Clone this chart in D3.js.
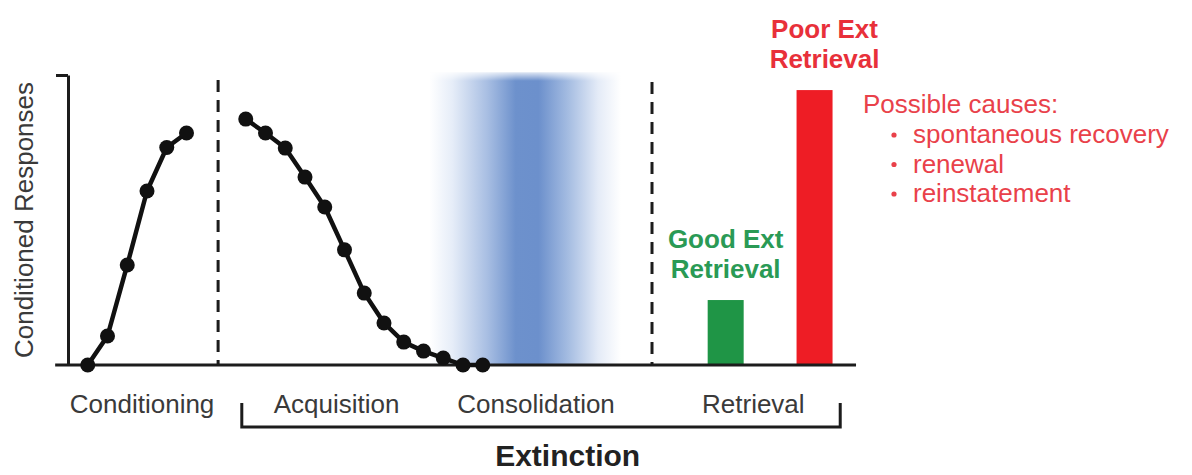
<!DOCTYPE html>
<html>
<head>
<meta charset="utf-8">
<script src="https://cdn.jsdelivr.net/npm/d3@7"></script>
<style>
  body { margin: 0; background: #fff; }
  svg { display: block; font-family: Arial, "Liberation Sans", Helvetica, sans-serif; }
</style>
</head>
<body>
<svg></svg>
<script>
// data (CR as fraction of axis height)
const condTrials = [1, 2, 3, 4, 5, 6];
const condCR = [0, 0.10, 0.345, 0.60, 0.75, 0.80];
const extTrials = [9, 10, 11, 12, 13, 14, 15, 16, 17, 18, 19, 20, 21];
const extCR = [0.848, 0.80, 0.748, 0.648, 0.545, 0.397, 0.248, 0.145, 0.079, 0.048, 0.024, 0, 0];
const retrievalTests = ['Good Ext', 'Poor Ext'];
const retrievalPos = [33.3, 37.8];
const retrievalCR = [0.224, 0.948];
const phases = ['Conditioning', 'Acquisition', 'Consolidation', 'Retrieval'];
const phasePos = [3.75, 13.6, 23.7, 34.7];
const causes = ['spontaneous recovery', 'renewal', 'reinstatement'];

const width = 1192;
const height = 475;

const svg = d3.select('svg')
  .attr('width', width)
  .attr('height', height);

const x = d3.scaleLinear().domain([0, 40]).range([68, 858]);
const y = d3.scaleLinear().domain([0, 1]).range([365, 75]);

const ink = '#1c1c1c';
const red = '#ee1d25';
const green = '#1f9546';

// consolidation band
const defs = svg.append('defs');
const grad = defs.append('linearGradient').attr('id', 'band');
[[0, '#ffffff'], [0.12, '#e6edf8'], [0.3, '#a9bfe3'], [0.45, '#6d91cc'],
 [0.57, '#6c90cc'], [0.72, '#a3bbe1'], [0.88, '#e4ebf7'], [1, '#ffffff']]
  .forEach(([o, c]) => grad.append('stop').attr('offset', o).attr('stop-color', c));
const vfade = defs.append('linearGradient').attr('id', 'vfade')
  .attr('x1', 0).attr('x2', 0).attr('y1', 0).attr('y2', 1);
vfade.append('stop').attr('offset', 0).attr('stop-color', '#fff').attr('stop-opacity', 0.2);
vfade.append('stop').attr('offset', 0.03).attr('stop-color', '#fff').attr('stop-opacity', 1);
vfade.append('stop').attr('offset', 1).attr('stop-color', '#fff').attr('stop-opacity', 1);
defs.append('mask').attr('id', 'bandMask')
  .append('rect')
  .attr('x', x(18.3)).attr('y', y(1.01))
  .attr('width', x(28) - x(18.3)).attr('height', y(0) - y(1.01))
  .attr('fill', 'url(#vfade)');

svg.append('rect')
  .attr('x', x(18.3))
  .attr('y', y(1.01))
  .attr('width', x(28) - x(18.3))
  .attr('height', y(0) - y(1.01))
  .attr('fill', 'url(#band)')
  .attr('mask', 'url(#bandMask)');

// phase dividers
[7.6, 29.57].forEach((d, i) => {
  svg.append('line')
    .attr('x1', x(d)).attr('x2', x(d))
    .attr('y1', y(i === 0 ? 0.983 : 0.976)).attr('y2', y(0))
    .attr('stroke', ink)
    .attr('stroke-width', 3)
    .attr('stroke-dasharray', '12 8');
});

// bars
svg.selectAll('.bar')
  .data(retrievalCR)
  .enter()
  .append('rect')
  .attr('class', 'bar')
  .attr('x', (d, i) => x(retrievalPos[i]) - 18)
  .attr('y', d => y(d))
  .attr('width', 36)
  .attr('height', d => y(0) - y(d))
  .attr('fill', (d, i) => i === 0 ? green : red);

// axes
const yAxis = d3.axisLeft(y).tickValues([1]).tickFormat('').tickSize(12).tickSizeOuter(0);
const yg = svg.append('g')
  .attr('transform', `translate(${x(0)}, 0)`)
  .call(yAxis);
yg.selectAll('path, line').attr('stroke', ink).attr('stroke-width', 3);

svg.append('line')
  .attr('x1', x(-0.65)).attr('x2', x(39.9))
  .attr('y1', y(0)).attr('y2', y(0))
  .attr('stroke', ink)
  .attr('stroke-width', 3);

// learning curves
const line = d3.line().x(d => x(d[0])).y(d => y(d[1]));
const curves = [
  condTrials.map((t, i) => [t, condCR[i]]),
  extTrials.map((t, i) => [t, extCR[i]])
];
curves.forEach(pts => {
  svg.append('path')
    .datum(pts)
    .attr('d', line)
    .attr('fill', 'none')
    .attr('stroke', '#111')
    .attr('stroke-width', 4.5)
    .attr('stroke-linejoin', 'round');
  svg.selectAll(null)
    .data(pts)
    .enter()
    .append('circle')
    .attr('cx', d => x(d[0]))
    .attr('cy', d => y(d[1]))
    .attr('r', 7.5)
    .attr('fill', '#111');
});

// y label
svg.append('text')
  .attr('transform', `translate(33, ${y(0.5)}) rotate(-90)`)
  .attr('text-anchor', 'middle')
  .attr('font-size', 26)
  .attr('fill', '#3a3a3a')
  .text('Conditioned Responses');

// phase labels
svg.selectAll('.phase')
  .data(phases)
  .enter()
  .append('text')
  .attr('class', 'phase')
  .attr('x', (d, i) => x(phasePos[i]))
  .attr('y', 413)
  .attr('text-anchor', 'middle')
  .attr('font-size', 26)
  .attr('fill', '#3a3a3a')
  .text(d => d);

// extinction bracket
svg.append('path')
  .attr('d', `M${x(8.8)},403 V427 H${x(39.1)} V403`)
  .attr('fill', 'none')
  .attr('stroke', ink)
  .attr('stroke-width', 3);

svg.append('text')
  .attr('x', x(25.3))
  .attr('y', 466)
  .attr('text-anchor', 'middle')
  .attr('font-size', 30)
  .attr('font-weight', 'bold')
  .attr('fill', '#222')
  .text('Extinction');

// bar labels
retrievalTests.forEach((t, i) => {
  const top = y(retrievalCR[i]);
  const g = svg.append('text')
    .attr('text-anchor', 'middle')
    .attr('font-size', 26)
    .attr('font-weight', 'bold')
    .attr('fill', i === 0 ? '#2a9a55' : '#e8303a');
  const cx = x(retrievalPos[i]) + (i === 0 ? 0 : 10);
  g.append('tspan').attr('x', cx).attr('y', top - 52).text(t);
  g.append('tspan').attr('x', cx).attr('y', top - 22).text('Retrieval');
});

// possible causes
svg.append('text')
  .attr('x', 863)
  .attr('y', 113)
  .attr('font-size', 26)
  .attr('fill', '#e9414a')
  .text('Possible causes:');

const causeG = svg.selectAll('.cause')
  .data(causes)
  .enter()
  .append('g')
  .attr('class', 'cause')
  .attr('transform', (d, i) => `translate(0, ${143 + i * 29.5})`);
causeG.append('circle')
  .attr('cx', 894)
  .attr('cy', -8)
  .attr('r', 2.6)
  .attr('fill', '#e9414a');
causeG.append('text')
  .attr('x', 913)
  .attr('font-size', 26)
  .attr('fill', '#e9414a')
  .text(d => d);
</script>
</body>
</html>
